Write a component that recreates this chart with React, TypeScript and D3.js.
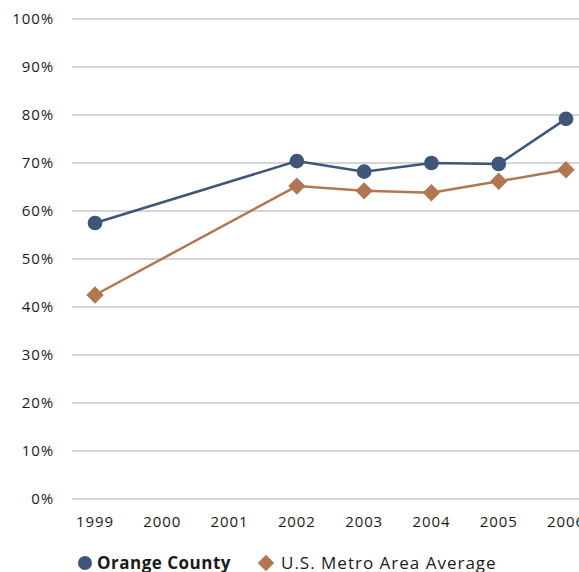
import { useEffect, useRef } from 'react';
import * as d3 from 'd3';

const years = [1999, 2000, 2001, 2002, 2003, 2004, 2005, 2006];
const orangeCounty: (number | null)[] = [57.5, null, null, 70.4, 68.2, 70.0, 69.8, 79.2];
const usMetro: (number | null)[] = [42.5, null, null, 65.2, 64.2, 63.8, 66.2, 68.6];
const yTicks = [0, 10, 20, 30, 40, 50, 60, 70, 80, 90, 100];

const W = 579;
const H = 572;
const NAVY = '#3f5679';
const BROWN = '#b07752';
const FONT = '"Open Sans", "Noto Sans", sans-serif';

export default function App() {
  const svgRef = useRef<SVGSVGElement>(null);

  useEffect(() => {
    const svg = d3.select(svgRef.current);
    svg.selectAll('*').remove();

    const x = d3.scaleLinear().domain([1999, 2006]).range([95, 566]);
    const y = d3.scaleLinear().domain([0, 100]).range([499, 19]);

    // gridlines
    svg
      .append('g')
      .selectAll('line')
      .data(yTicks)
      .enter()
      .append('line')
      .attr('x1', 72)
      .attr('x2', W)
      .attr('y1', (d) => y(d))
      .attr('y2', (d) => y(d))
      .attr('stroke', '#a3acbd')
      .attr('stroke-width', 1.2);

    // y labels
    svg
      .append('g')
      .selectAll('text')
      .data(yTicks)
      .enter()
      .append('text')
      .attr('x', 54)
      .attr('y', (d) => y(d))
      .attr('dy', '0.36em')
      .attr('text-anchor', 'end')
      .attr('font-family', FONT)
      .attr('font-size', 15)
      .attr('letter-spacing', 0.9)
      .attr('fill', '#1a1a1a')
      .text((d) => `${d}%`);

    // x labels
    svg
      .append('g')
      .selectAll('text')
      .data(years)
      .enter()
      .append('text')
      .attr('x', (d) => x(d))
      .attr('y', 527)
      .attr('text-anchor', 'middle')
      .attr('font-family', FONT)
      .attr('font-size', 15)
      .attr('letter-spacing', 0.9)
      .attr('fill', '#1a1a1a')
      .text((d) => String(d));

    const series = [
      { values: orangeCounty, color: NAVY, shape: 'circle' },
      { values: usMetro, color: BROWN, shape: 'diamond' },
    ];

    series.forEach((s) => {
      const pts = years
        .map((yr, i) => ({ yr, v: s.values[i] }))
        .filter((p) => p.v !== null) as { yr: number; v: number }[];
      const line = d3
        .line<{ yr: number; v: number }>()
        .x((p) => x(p.yr))
        .y((p) => y(p.v));
      svg
        .append('path')
        .attr('d', line(pts) ?? '')
        .attr('fill', 'none')
        .attr('stroke', s.color)
        .attr('stroke-width', 2.5);
      const sym = d3
        .symbol()
        .type(s.shape === 'circle' ? d3.symbolCircle : d3.symbolSquare)
        .size(s.shape === 'circle' ? 170 : 150);
      svg
        .append('g')
        .selectAll('path')
        .data(pts)
        .enter()
        .append('path')
        .attr('d', sym() ?? '')
        .attr(
          'transform',
          (p) => `translate(${x(p.yr)},${y(p.v)})${s.shape === 'diamond' ? ' rotate(45)' : ''}`,
        )
        .attr('fill', s.color);
    });

    // legend
    const lg = svg.append('g').attr('transform', 'translate(0,563)');
    lg.append('circle').attr('cx', 85).attr('cy', 0).attr('r', 7).attr('fill', NAVY);
    lg.append('text')
      .attr('x', 97)
      .attr('y', 0)
      .attr('dy', '0.36em')
      .attr('font-family', FONT)
      .attr('font-size', 17)
      .attr('letter-spacing', 0.5)
      .attr('font-weight', 'bold')
      .attr('fill', '#1a1a1a')
      .text('Orange County');
    lg.append('path')
      .attr('d', d3.symbol().type(d3.symbolSquare).size(135)() ?? '')
      .attr('transform', 'translate(266,0) rotate(45)')
      .attr('fill', BROWN);
    lg.append('text')
      .attr('x', 281)
      .attr('y', 0)
      .attr('dy', '0.36em')
      .attr('font-family', FONT)
      .attr('font-size', 17)
      .attr('letter-spacing', 1)
      .attr('fill', '#1a1a1a')
      .text('U.S. Metro Area Average');
  }, []);

  return (
    <svg
      ref={svgRef}
      width={W}
      height={H}
      viewBox={`0 0 ${W} ${H}`}
      style={{ position: 'absolute', left: 0, top: 0, background: '#fff' }}
    />
  );
}
